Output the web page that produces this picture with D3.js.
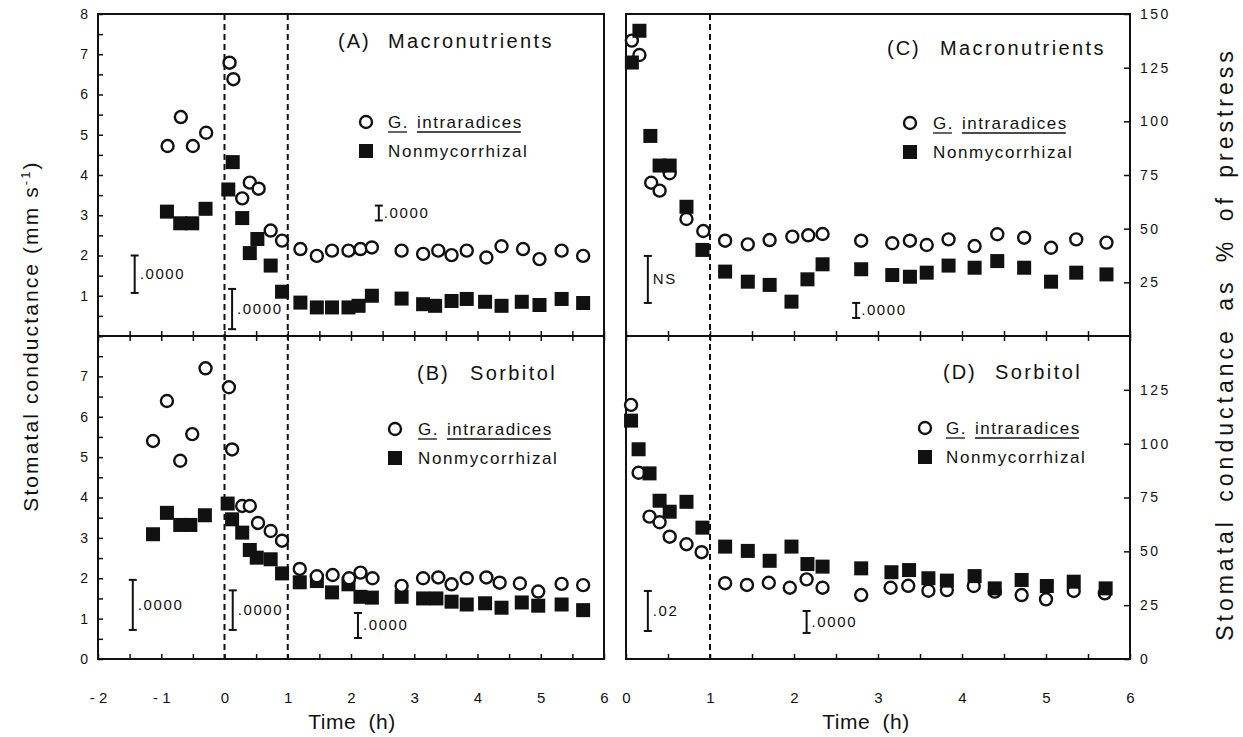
<html>
<head>
<script src="https://cdn.jsdelivr.net/npm/d3@7"></script>
<meta charset="UTF-8">
<style>
body { margin: 0; background: #fff; }
svg text { font-family: "Liberation Sans", Arial, Helvetica, sans-serif; fill: #111; }
</style>
</head>
<body>
<svg id="chart" width="1243" height="737"></svg>
<script>

// ---- data ----
// (A) macronutrients, mm s-1
const aTimeG = [-0.90,-0.69,-0.50,-0.29,0.08,0.14,0.28,0.40,0.54,0.73,0.91,1.20,1.46,1.70,1.96,2.15,2.33,2.80,3.14,3.38,3.59,3.83,4.14,4.38,4.72,4.98,5.33,5.67];
const aG     = [4.72,5.44,4.72,5.05,6.79,6.38,3.42,3.81,3.66,2.62,2.37,2.16,1.99,2.12,2.12,2.16,2.20,2.12,2.04,2.12,2.01,2.12,1.95,2.23,2.16,1.91,2.12,1.99];
const aTimeN = [-0.91,-0.70,-0.51,-0.30,0.06,0.13,0.28,0.40,0.52,0.73,0.91,1.20,1.46,1.70,1.96,2.12,2.33,2.80,3.14,3.33,3.59,3.83,4.12,4.38,4.70,4.98,5.33,5.67];
const aN     = [3.09,2.80,2.80,3.16,3.64,4.32,2.93,2.06,2.41,1.75,1.10,0.83,0.71,0.71,0.71,0.75,1.00,0.93,0.79,0.75,0.87,0.92,0.85,0.75,0.85,0.77,0.92,0.82];
// (B) sorbitol, mm s-1
const bTimeG = [-1.13,-0.91,-0.70,-0.51,-0.30,0.07,0.12,0.28,0.40,0.53,0.73,0.91,1.19,1.46,1.71,1.97,2.15,2.34,2.80,3.14,3.38,3.59,3.83,4.14,4.35,4.67,4.96,5.33,5.67];
const bG     = [5.40,6.39,4.91,5.57,7.20,6.73,5.19,3.79,3.79,3.37,3.17,2.93,2.23,2.05,2.08,2.00,2.14,2.00,1.81,2.00,2.02,1.85,2.00,2.02,1.89,1.87,1.67,1.86,1.83];
const bTimeN = [-1.13,-0.91,-0.70,-0.54,-0.31,0.05,0.12,0.28,0.40,0.51,0.73,0.91,1.19,1.46,1.70,1.96,2.15,2.33,2.80,3.14,3.35,3.59,3.83,4.12,4.38,4.70,4.96,5.33,5.67];
const bN     = [3.09,3.62,3.32,3.32,3.56,3.85,3.46,3.13,2.70,2.51,2.47,2.12,1.90,1.93,1.65,1.85,1.54,1.52,1.54,1.50,1.50,1.42,1.35,1.38,1.27,1.40,1.32,1.35,1.21];
// (C) macronutrients, % of prestress
const cTimeG = [0.07,0.16,0.30,0.40,0.52,0.72,0.92,1.18,1.45,1.71,1.98,2.17,2.34,2.80,3.17,3.38,3.58,3.84,4.15,4.42,4.74,5.06,5.36,5.72];
const cG     = [137.6,130.9,71.4,67.7,75.8,54.5,48.9,44.4,42.7,44.7,46.3,46.9,47.5,44.4,43.2,44.4,42.4,45.0,41.9,47.4,45.8,41.1,45.0,43.5];
const cTimeN = [0.07,0.16,0.29,0.40,0.52,0.72,0.91,1.18,1.45,1.71,1.97,2.16,2.34,2.80,3.17,3.38,3.58,3.84,4.15,4.42,4.74,5.06,5.36,5.72];
const cN     = [127.4,142.2,93.2,79.4,79.4,60.2,40.1,30.0,25.3,23.8,16.0,26.4,33.4,31.1,28.4,27.6,29.5,32.8,31.8,34.9,31.8,25.3,29.5,28.7];
// (D) sorbitol, % of prestress
const dTimeG = [0.06,0.15,0.28,0.40,0.52,0.72,0.90,1.18,1.44,1.70,1.95,2.15,2.34,2.80,3.15,3.36,3.60,3.82,4.14,4.39,4.71,5.00,5.33,5.70];
const dG     = [118.0,86.5,66.1,63.5,56.8,53.3,49.6,35.2,34.4,35.4,33.1,37.0,33.1,29.7,33.1,34.0,31.7,32.0,33.9,31.3,29.7,27.7,31.6,30.5];
const dTimeN = [0.06,0.15,0.28,0.40,0.52,0.72,0.91,1.18,1.45,1.71,1.97,2.16,2.34,2.80,3.16,3.37,3.60,3.82,4.15,4.39,4.71,5.01,5.33,5.71];
const dN     = [110.7,97.4,86.2,73.5,68.4,73.0,61.0,52.2,50.2,45.6,52.2,44.1,42.9,42.1,40.3,41.3,37.5,36.4,38.5,32.8,36.7,33.9,35.9,32.8];

// significance bars: time, low, high, label
const sigA = [[-1.42,1.07,2.0,'.0000'],[0.12,0.17,1.17,'.0000'],[2.44,2.87,3.24,'.0000']];
const sigB = [[-1.45,0.72,1.96,'.0000'],[0.13,0.72,1.70,'.0000'],[2.11,0.52,1.14,'.0000']];
const sigC = [[0.26,15.4,37.3,'NS'],[2.74,8.4,15.4,'.0000']];
const sigD = [[0.26,13.0,31.6,'.02'],[2.15,12.1,22.3,'.0000']];

const leftTicksA = [1,2,3,4,5,6,7,8];
const leftTicksB = [0,1,2,3,4,5,6,7];
const rightTicksC = [25,50,75,100,125,150];
const rightTicksD = [0,25,50,75,100,125];
const xTicksLeft = [-2,-1,0,1,2,3,4,5,6];
const xTicksRight = [0,1,2,3,4,5,6];

// ---- layout ----
const svg = d3.select('#chart');
const topY = 14, midY = 336, botY = 659;
const xl = d3.scaleLinear().domain([-2, 6]).range([98, 604]);
const xr = d3.scaleLinear().domain([0, 6]).range([626, 1130]);
const yA = d3.scaleLinear().domain([0, 8]).range([midY, topY]);
const yB = d3.scaleLinear().domain([0, 8]).range([botY, midY]);
const yC = d3.scaleLinear().domain([0, 150]).range([midY, topY]);
const yD = d3.scaleLinear().domain([0, 150]).range([botY, midY]);

function halfSteps(a, b) { return d3.range(a * 2, b * 2 + 1).map(d => d / 2); }

function styleAxis(g) {
  g.select('.domain').remove();
  g.selectAll('line').attr('stroke', '#111').attr('stroke-width', 1.5);
}

// frames
[[xl, yA], [xl, yB], [xr, yC], [xr, yD]].forEach(([x, y]) => {
  svg.append('rect')
    .attr('x', x.range()[0]).attr('y', y.range()[1])
    .attr('width', x.range()[1] - x.range()[0])
    .attr('height', y.range()[0] - y.range()[1])
    .attr('fill', 'none').attr('stroke', '#111').attr('stroke-width', 2);
});

// x ticks (half hour), on both horizontal edges of each panel
function xTicks(x, y, dir) {
  const ax = (dir === 'up' ? d3.axisBottom(x) : d3.axisTop(x))
    .tickValues(halfSteps(x.domain()[0], x.domain()[1]))
    .tickSizeInner(-5).tickSizeOuter(0).tickFormat('');
  svg.append('g').attr('transform', `translate(0,${y})`).call(ax).call(styleAxis);
}
xTicks(xl, midY, 'up'); xTicks(xl, midY, 'down'); xTicks(xl, botY, 'up');
xTicks(xr, midY, 'up'); xTicks(xr, midY, 'down'); xTicks(xr, botY, 'up');

// bottom tick labels
function xLabels(x, vals) {
  const ax = d3.axisBottom(x).tickValues(vals).tickSize(0).tickPadding(33)
    .tickFormat(d => d < 0 ? '- ' + Math.abs(d) : d);
  svg.append('g').attr('transform', `translate(0,${botY})`).call(ax).call(styleAxis)
    .selectAll('text').style('font-size', '15px');
}
xLabels(xl, xTicksLeft);
xLabels(xr, xTicksRight);

// left y axes
function leftAxis(y, labels) {
  svg.append('g').attr('transform', `translate(${xl.range()[0]},0)`)
    .call(d3.axisLeft(y).tickValues(halfSteps(0, 8)).tickSizeInner(-5).tickSizeOuter(0).tickFormat(''))
    .call(styleAxis);
  svg.append('g').attr('transform', `translate(${xl.range()[0]},0)`)
    .call(d3.axisLeft(y).tickValues(labels).tickSize(0).tickPadding(10))
    .call(styleAxis)
    .selectAll('text').style('font-size', '14px');
}
leftAxis(yA, leftTicksA);
leftAxis(yB, leftTicksB);

// right y axes
function rightAxis(y, labels) {
  svg.append('g').attr('transform', `translate(${xr.range()[1]},0)`)
    .call(d3.axisRight(y).tickValues(labels).tickSizeInner(-6).tickSizeOuter(0).tickPadding(10))
    .call(styleAxis)
    .selectAll('text').style('font-size', '14px').style('letter-spacing', '2.5px');
}
rightAxis(yC, rightTicksC);
rightAxis(yD, rightTicksD);

// dashed reference lines
[[xl, 0], [xl, 1], [xr, 1]].forEach(([x, t]) => {
  svg.append('line')
    .attr('x1', x(t)).attr('x2', x(t)).attr('y1', topY).attr('y2', botY)
    .attr('stroke', '#111').attr('stroke-width', 2).attr('stroke-dasharray', '6,4');
});

// points
function drawPoints(x, y, tg, vg, tn, vn, circlesOnTop) {
  const g = svg.append('g');
  const sq = 14;
  const circles = () => g.append('g').selectAll('circle').data(d3.zip(tg, vg)).join('circle')
    .attr('cx', d => x(d[0])).attr('cy', d => y(d[1])).attr('r', 6)
    .attr('fill', '#fff').attr('stroke', '#111').attr('stroke-width', 2.4);
  const squares = () => g.append('g').selectAll('rect').data(d3.zip(tn, vn)).join('rect')
    .attr('x', d => x(d[0]) - sq / 2).attr('y', d => y(d[1]) - sq / 2)
    .attr('width', sq).attr('height', sq).attr('fill', '#111');
  if (circlesOnTop) { squares(); circles(); } else { circles(); squares(); }
}
drawPoints(xl, yA, aTimeG, aG, aTimeN, aN, true);
drawPoints(xl, yB, bTimeG, bG, bTimeN, bN, true);
drawPoints(xr, yC, cTimeG, cG, cTimeN, cN, false);
drawPoints(xr, yD, dTimeG, dG, dTimeN, dN, false);

// significance bars
function sigBars(x, y, bars) {
  bars.forEach(([t, lo, hi, label]) => {
    const px = x(t), y1 = y(hi), y2 = y(lo);
    const g = svg.append('g').attr('stroke', '#111').attr('stroke-width', 2);
    g.append('line').attr('x1', px).attr('x2', px).attr('y1', y1).attr('y2', y2);
    g.append('line').attr('x1', px - 4).attr('x2', px + 4).attr('y1', y1).attr('y2', y1);
    g.append('line').attr('x1', px - 4).attr('x2', px + 4).attr('y1', y2).attr('y2', y2);
    svg.append('text').attr('x', px + 5).attr('y', (y1 + y2) / 2 + 5)
      .style('font-size', '15px').style('letter-spacing', '1.6px').text(label);
  });
}
sigBars(xl, yA, sigA);
sigBars(xl, yB, sigB);
sigBars(xr, yC, sigC);
sigBars(xr, yD, sigD);

// panel titles and legends
const panels = [
  { tag: '(A)', name: 'Macronutrients', tx: 338, nx: 388, ty: 48, lx: 366, ly: 122, textX: 388 },
  { tag: '(B)', name: 'Sorbitol', tx: 417, nx: 470, ty: 380, lx: 395, ly: 429, textX: 418 },
  { tag: '(C)', name: 'Macronutrients', tx: 887, nx: 940, ty: 55, lx: 910, ly: 123, textX: 933 },
  { tag: '(D)', name: 'Sorbitol', tx: 943, nx: 995, ty: 379, lx: 925, ly: 428, textX: 946 }
];
panels.forEach(p => {
  svg.append('text').attr('x', p.tx).attr('y', p.ty).style('font-size', '20px')
    .style('letter-spacing', '2px').text(p.tag);
  svg.append('text').attr('x', p.nx).attr('y', p.ty).style('font-size', '20px')
    .style('letter-spacing', '2.4px').text(p.name);

  svg.append('circle').attr('cx', p.lx).attr('cy', p.ly).attr('r', 6)
    .attr('fill', '#fff').attr('stroke', '#111').attr('stroke-width', 2.4);
  svg.append('rect').attr('x', p.lx - 7).attr('y', p.ly + 29 - 7).attr('width', 14).attr('height', 14)
    .attr('fill', '#111');

  const t1 = svg.append('text').attr('x', p.textX).attr('y', p.ly + 6)
    .style('font-size', '17px').style('letter-spacing', '1.5px').text('G.');
  const w1 = t1.node().getBBox().width;
  const t2 = svg.append('text').attr('x', p.textX + w1 + 8).attr('y', p.ly + 6)
    .style('font-size', '17px').style('letter-spacing', '1.5px').text('intraradices');
  const w2 = t2.node().getBBox().width;
  [[p.textX, w1], [p.textX + w1 + 8, w2]].forEach(([x0, w]) => {
    svg.append('line').attr('x1', x0).attr('x2', x0 + w - 2)
      .attr('y1', p.ly + 10).attr('y2', p.ly + 10).attr('stroke', '#111').attr('stroke-width', 1.3);
  });
  svg.append('text').attr('x', p.textX).attr('y', p.ly + 35)
    .style('font-size', '17px').style('letter-spacing', '1.6px').text('Nonmycorrhizal');
});

// axis titles
const yTitle = svg.append('text').attr('transform', 'translate(38,336) rotate(-90)')
  .attr('text-anchor', 'middle').style('font-size', '21px').style('letter-spacing', '2.1px');
yTitle.append('tspan').text('Stomatal conductance (mm s');
yTitle.append('tspan').attr('dy', -8).style('font-size', '13px').text('-1');
yTitle.append('tspan').attr('dy', 8).text(')');

svg.append('text').attr('transform', 'translate(1233,344) rotate(-90)')
  .attr('text-anchor', 'middle').style('font-size', '23px').style('letter-spacing', '4px')
  .style('word-spacing', '6px')
  .text('Stomatal conductance as % of prestress');

svg.append('text').attr('x', 352).attr('y', 729).attr('text-anchor', 'middle')
  .style('font-size', '21px').style('letter-spacing', '0.5px').style('word-spacing', '6px').text('Time (h)');
svg.append('text').attr('x', 866).attr('y', 729).attr('text-anchor', 'middle')
  .style('font-size', '21px').style('letter-spacing', '0.5px').style('word-spacing', '6px').text('Time (h)');

</script>
</body>
</html>
